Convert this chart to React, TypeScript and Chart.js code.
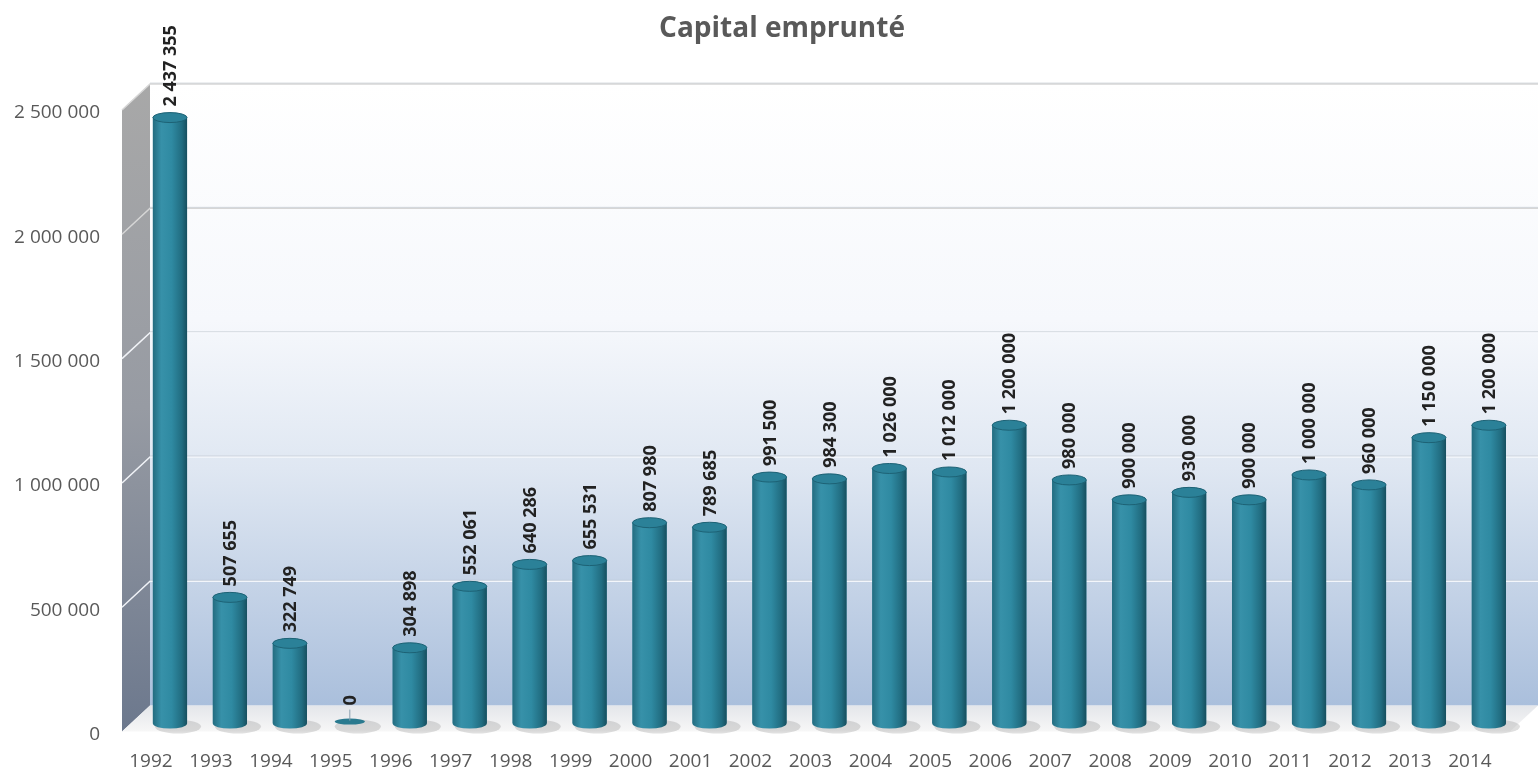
import React, { useEffect, useRef } from 'react';
import { Chart, registerables } from 'chart.js';

Chart.register(...registerables);

const chartTitle = 'Capital emprunté';
const categories = [
  '1992', '1993', '1994', '1995', '1996', '1997', '1998', '1999', '2000', '2001', '2002', '2003',
  '2004', '2005', '2006', '2007', '2008', '2009', '2010', '2011', '2012', '2013', '2014',
];
const capitalValues = [
  2437355, 507655, 322749, 0, 304898, 552061, 640286, 655531, 807980, 789685, 991500, 984300,
  1026000, 1012000, 1200000, 980000, 900000, 930000, 900000, 1000000, 960000, 1150000, 1200000,
];
const yTickValues = [0, 500000, 1000000, 1500000, 2000000, 2500000];

const fmt = (v: number) => String(Math.round(v)).replace(/\B(?=(\d{3})+(?!\d))/g, ' ');

const FONT = '"Open Sans", "Liberation Sans", sans-serif';

const wallsPlugin = {
  id: 'walls3d',
  beforeDatasetsDraw(chart: any) {
    const { ctx, scales } = chart;
    const y = scales.y;
    const W = chart.width;
    const fx = 122;
    const dx = 28;
    const bx = fx + dx;
    const yb = (v: number) => y.getPixelForValue(v) - 18;
    const yf = (v: number) => y.getPixelForValue(v) + 8;
    const vmax = y.max;
    ctx.save();
    // back wall
    const gTop = yb(vmax);
    const gBot = yb(0);
    const g = ctx.createLinearGradient(0, gTop, 0, gBot);
    g.addColorStop(0, '#ffffff');
    g.addColorStop(0.38, '#f6f8fc');
    g.addColorStop(0.62, '#dfe7f2');
    g.addColorStop(1, '#aabfdc');
    ctx.fillStyle = g;
    ctx.fillRect(bx, gTop, W - bx, gBot - gTop);
    // side wall
    const sg = ctx.createLinearGradient(0, yb(vmax), 0, yf(0));
    sg.addColorStop(0, '#a8a8a8');
    sg.addColorStop(0.5, '#979ba3');
    sg.addColorStop(1, '#6c788d');
    ctx.fillStyle = sg;
    ctx.beginPath();
    ctx.moveTo(fx, yf(vmax));
    ctx.lineTo(bx, yb(vmax));
    ctx.lineTo(bx, yb(0));
    ctx.lineTo(fx, yf(0));
    ctx.closePath();
    ctx.fill();
    // floor
    const fg = ctx.createLinearGradient(0, yb(0), 0, yf(0));
    fg.addColorStop(0, '#e4e6ea');
    fg.addColorStop(1, '#f7f7f7');
    ctx.fillStyle = fg;
    ctx.beginPath();
    ctx.moveTo(fx, yf(0));
    ctx.lineTo(bx, yb(0));
    ctx.lineTo(W, yb(0));
    ctx.lineTo(W - dx, yf(0));
    ctx.closePath();
    ctx.fill();
    // gridlines
    ctx.lineWidth = 1.5;
    yTickValues.forEach((v) => {
      if (v === 0) return;
      ctx.strokeStyle = v >= 2000000 ? '#d6d6d6' : 'rgba(245,248,252,0.95)';
      ctx.beginPath();
      ctx.moveTo(fx, yf(v));
      ctx.lineTo(bx, yb(v));
      ctx.lineTo(W, yb(v));
      ctx.stroke();
      ctx.strokeStyle = 'rgba(190,196,205,0.55)';
      ctx.lineWidth = 1;
      ctx.beginPath();
      ctx.moveTo(bx, yb(v) - 1);
      ctx.lineTo(W, yb(v) - 1);
      ctx.stroke();
      ctx.lineWidth = 1.5;
    });
    ctx.restore();
  },
  afterDatasetsDraw(chart: any) {
    const { ctx } = chart;
    const meta = chart.getDatasetMeta(0);
    const ry = 5;
    ctx.save();
    meta.data.forEach((bar: any, i: number) => {
      const { x, y, base, width } = bar.getProps(['x', 'y', 'base', 'width'], true);
      const half = width / 2;
      const value = capitalValues[i];
      // floor shadow
      ctx.fillStyle = 'rgba(80,80,80,0.18)';
      ctx.beginPath();
      ctx.ellipse(x + 8, base + 3, half + 6, ry + 2, 0, 0, Math.PI * 2);
      ctx.fill();
      if (value > 0) {
        const g = ctx.createLinearGradient(x - half, 0, x + half, 0);
        g.addColorStop(0, '#236c80');
        g.addColorStop(0.25, '#3791a9');
        g.addColorStop(0.55, '#2f8aa2');
        g.addColorStop(0.85, '#216c80');
        g.addColorStop(1, '#174f5f');
        ctx.fillStyle = g;
        ctx.beginPath();
        ctx.moveTo(x - half, y);
        ctx.lineTo(x - half, base);
        ctx.ellipse(x, base, half, ry, 0, Math.PI, 0, true);
        ctx.lineTo(x + half, y);
        ctx.closePath();
        ctx.fill();
        // top ellipse
        ctx.fillStyle = '#2b8198';
        ctx.beginPath();
        ctx.ellipse(x, y, half, ry, 0, 0, Math.PI * 2);
        ctx.fill();
        ctx.strokeStyle = '#1d6275';
        ctx.lineWidth = 1;
        ctx.stroke();
      } else {
        ctx.fillStyle = '#2a7a8f';
        ctx.beginPath();
        ctx.ellipse(x, base - 2, half - 2, 3, 0, 0, Math.PI * 2);
        ctx.fill();
        ctx.strokeStyle = '#8aa0b0';
        ctx.lineWidth = 1;
        ctx.beginPath();
        ctx.moveTo(x, base - 3);
        ctx.lineTo(x, base - 14);
        ctx.stroke();
      }
    });
    // data labels
    ctx.fillStyle = '#222222';
    ctx.font = `bold 18px ${FONT}`;
    ctx.textAlign = 'left';
    ctx.textBaseline = 'middle';
    meta.data.forEach((bar: any, i: number) => {
      const { x, y } = bar.getProps(['x', 'y'], true);
      const value = capitalValues[i];
      const start = value > 0 ? y - ry - 6 : y - 18;
      ctx.save();
      ctx.translate(x + 1, start);
      ctx.rotate(-Math.PI / 2);
      ctx.fillText(fmt(value), 0, 0);
      ctx.restore();
    });
    ctx.restore();
  },
  afterDraw(chart: any) {
    const { ctx } = chart;
    ctx.save();
    ctx.fillStyle = '#595959';
    ctx.font = `bold 28px ${FONT}`;
    ctx.textAlign = 'center';
    ctx.textBaseline = 'middle';
    ctx.fillText(chartTitle, 782, 29);
    ctx.restore();
  },
};

export default function App() {
  const ref = useRef<HTMLCanvasElement | null>(null);
  useEffect(() => {
    if (!ref.current) return;
    const chart = new Chart(ref.current, {
      type: 'bar',
      data: {
        labels: categories,
        datasets: [
          {
            label: chartTitle,
            data: capitalValues,
            backgroundColor: '#2b8198',
            borderWidth: 0,
            categoryPercentage: 1,
            barPercentage: 0.57,
          },
        ],
      },
      options: {
        animation: false,
        responsive: true,
        maintainAspectRatio: false,
        layout: { padding: { top: 102, right: 18, bottom: 0, left: 0 } },
        plugins: {
          legend: { display: false },
          title: { display: false },
          tooltip: { enabled: false },
        },
        scales: {
          x: {
            grid: { display: false, drawTicks: false },
            border: { display: false },
            ticks: {
              color: '#595959',
              font: { family: FONT, size: 19 },
              padding: 27,
              labelOffset: -19,
              maxRotation: 0,
              autoSkip: false,
            },
            afterFit: (s: any) => {
              s.height = 48;
            },
          },
          y: {
            min: 0,
            max: 2500000,
            grid: { display: false, drawTicks: false },
            border: { display: false },
            afterBuildTicks: (s: any) => {
              s.ticks = yTickValues.map((v) => ({ value: v }));
            },
            ticks: {
              color: '#595959',
              font: { family: FONT, size: 19 },
              padding: 40,
              labelOffset: 11,
              callback: (v: any) => fmt(Number(v)),
            },
            afterFit: (s: any) => {
              s.width = 140;
            },
          },
        },
      },
      plugins: [wallsPlugin],
    });
    return () => chart.destroy();
  }, []);
  return (
    <div style={{ position: 'fixed', left: 0, top: 0, width: 1538, height: 775, background: '#ffffff' }}>
      <canvas ref={ref} />
    </div>
  );
}
